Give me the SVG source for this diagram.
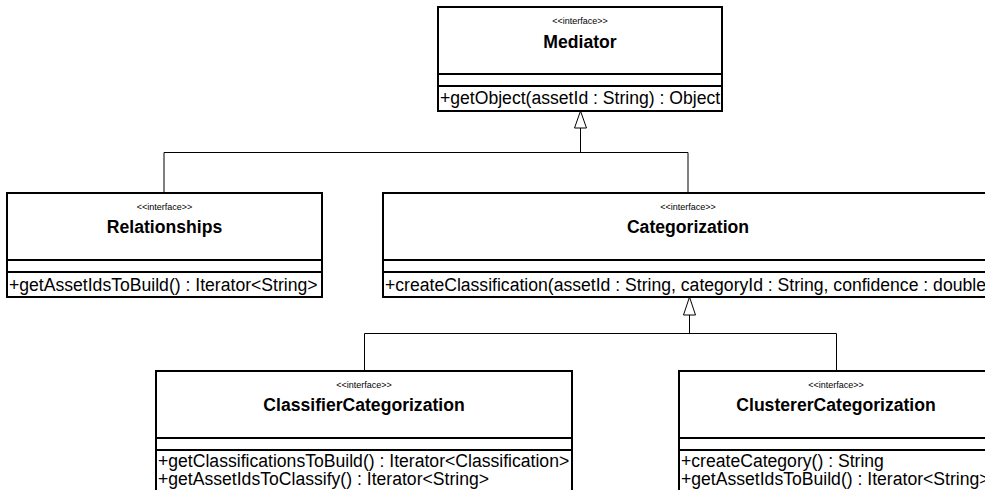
<svg xmlns="http://www.w3.org/2000/svg" width="985" height="490" viewBox="0 0 985 490">
  <style>
    .box { fill: #ffffff; stroke: #000000; stroke-width: 2; }
    .sep { stroke: #000000; stroke-width: 2; }
    .stereo { font-family: "Liberation Sans", Arial, sans-serif; font-size: 9px; text-anchor: middle; fill: #000; }
    .name { font-family: "Liberation Sans", Arial, sans-serif; font-size: 17.6px; font-weight: bold; text-anchor: middle; fill: #000; }
    .op { font-family: "Liberation Sans", Arial, sans-serif; font-size: 17.6px; fill: #000; }
    .edge { fill: none; stroke: #000000; stroke-width: 1; }
    .head { fill: #ffffff; stroke: #000000; stroke-width: 1; }
  </style>
  <rect width="985" height="490" fill="#ffffff"/>

  <!-- generalization connectors -->
  <g id="connectors">
    <polyline class="edge" points="164,193 164,152.5 688,152.5 688,193"/>
    <line class="edge" x1="580.5" y1="128" x2="580.5" y2="152.5"/>
    <polygon class="head" points="580.5,111 574.5,128 586.5,128"/>
    <polyline class="edge" points="364.5,371 364.5,333.5 836.5,333.5 836.5,371"/>
    <line class="edge" x1="689.5" y1="315" x2="689.5" y2="333.5"/>
    <polygon class="head" points="689.5,297 683.5,315 695.5,315"/>
  </g>

  <g id="mediator">
    <rect class="box" x="438" y="7" width="284" height="104"/>
    <line class="sep" x1="438" y1="74" x2="722" y2="74"/>
    <line class="sep" x1="438" y1="86" x2="722" y2="86"/>
    <text class="stereo" x="580" y="24">&lt;&lt;interface&gt;&gt;</text>
    <text class="name" x="580" y="48">Mediator</text>
    <text class="op" x="440" y="104">+getObject(assetId : String) : Object</text>
  </g>

  <g id="relationships">
    <rect class="box" x="7" y="193" width="315" height="104"/>
    <line class="sep" x1="7" y1="260" x2="322" y2="260"/>
    <line class="sep" x1="7" y1="272" x2="322" y2="272"/>
    <text class="stereo" x="164.5" y="210">&lt;&lt;interface&gt;&gt;</text>
    <text class="name" x="164.5" y="233">Relationships</text>
    <text class="op" x="9" y="291">+getAssetIdsToBuild() : Iterator&lt;String&gt;</text>
  </g>

  <g id="categorization">
    <rect class="box" x="383" y="193" width="612" height="104"/>
    <line class="sep" x1="383" y1="260" x2="995" y2="260"/>
    <line class="sep" x1="383" y1="272" x2="995" y2="272"/>
    <text class="stereo" x="688" y="210">&lt;&lt;interface&gt;&gt;</text>
    <text class="name" x="688" y="233">Categorization</text>
    <text class="op" x="385" y="291">+createClassification(assetId : String, categoryId : String, confidence : double</text>
  </g>

  <g id="classifierCategorization">
    <rect class="box" x="156" y="371" width="416" height="140"/>
    <line class="sep" x1="156" y1="438" x2="572" y2="438"/>
    <line class="sep" x1="156" y1="450" x2="572" y2="450"/>
    <text class="stereo" x="364" y="388">&lt;&lt;interface&gt;&gt;</text>
    <text class="name" x="364" y="411">ClassifierCategorization</text>
    <text class="op" x="158" y="467">+getClassificationsToBuild() : Iterator&lt;Classification&gt;</text>
    <text class="op" x="158" y="485">+getAssetIdsToClassify() : Iterator&lt;String&gt;</text>
  </g>

  <g id="clustererCategorization">
    <rect class="box" x="679" y="371" width="316" height="140"/>
    <line class="sep" x1="679" y1="438" x2="995" y2="438"/>
    <line class="sep" x1="679" y1="450" x2="995" y2="450"/>
    <text class="stereo" x="836" y="388">&lt;&lt;interface&gt;&gt;</text>
    <text class="name" x="836" y="411">ClustererCategorization</text>
    <text class="op" x="681" y="467">+createCategory() : String</text>
    <text class="op" x="681" y="485">+getAssetIdsToBuild() : Iterator&lt;String&gt;</text>
  </g>
</svg>
